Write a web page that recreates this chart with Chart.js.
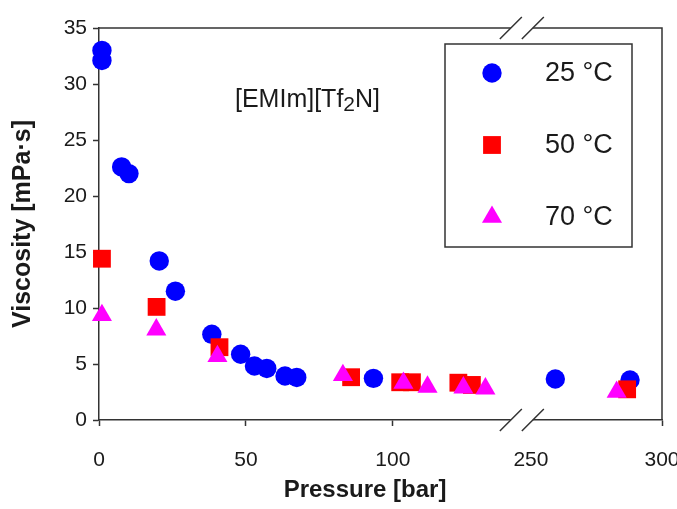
<!DOCTYPE html>
<html>
<head>
<meta charset="utf-8">
<script src="https://cdn.jsdelivr.net/npm/chart.js@4.4.1/dist/chart.umd.min.js"></script>
<style>
  html, body { margin: 0; padding: 0; background: #fff; }
  #wrap { width: 677px; height: 509px; }
</style>
</head>
<body>
<div id="wrap"><canvas id="viscChart"></canvas></div>
<script>
// pressure [bar] / viscosity [mPa·s]
var pressure25 = [1, 1, 7.7, 10.2, 20.5, 26.0, 38.4, 48.2, 52.9, 57.1, 63.3, 67.3, 93.4, 259.3, 287.8];
var viscosity25 = [33.0, 32.1, 22.6, 22.0, 14.2, 11.5, 7.65, 5.87, 4.82, 4.6, 3.93, 3.8, 3.72, 3.66, 3.57];
var pressure50 = [1, 19.6, 41.0, 85.8, 102.5, 106.5, 122.3, 126.9, 286.7];
var viscosity50 = [14.4, 10.1, 6.5, 3.82, 3.37, 3.37, 3.33, 3.13, 2.74];
var pressure70 = [1, 19.5, 40.3, 83.0, 103.6, 111.8, 124.0, 131.5, 282.7];
var viscosity70 = [9.35, 8.07, 5.69, 3.99, 3.3, 2.95, 2.89, 2.8, 2.5];

var seriesLabels = ['25 °C', '50 °C', '70 °C'];
var xTickValues = [0, 50, 100, 250, 300];
var yTickValues = [0, 5, 10, 15, 20, 25, 30, 35];

var axisColor = '#333';
var textColor = '#1a1a1a';
var fontFamily = '"Liberation Sans", Arial, sans-serif';

// broken x axis: 0..~145 bar as is, 250..300 bar squeezed in after the break
var breakAt = 143.9;
var rightFrom = 147;
var rightTo = 191.6;
function toAxis(p) {
   if (p < 200) return p;
   return rightFrom + (p - 250) * (rightTo - rightFrom) / 50;
}
function points(px, vy) {
   return px.map(function(p, i) { return { x: toAxis(p), y: vy[i] }; });
}

var frameAndBreak = {
   id: 'frameAndBreak',
   afterDraw: function(chart) {
      var ctx = chart.ctx;
      var a = chart.chartArea;
      var bx = chart.scales.x.getPixelForValue(breakAt);
      ctx.save();
      ctx.strokeStyle = axisColor;
      ctx.lineWidth = 1.5;
      ctx.beginPath();
      ctx.moveTo(a.left, a.top);
      ctx.lineTo(a.right, a.top);
      ctx.lineTo(a.right, a.bottom);
      ctx.stroke();
      [a.top, a.bottom].forEach(function(y) {
         ctx.fillStyle = '#fff';
         ctx.fillRect(bx - 11, y - 2, 22, 4);
         ctx.beginPath();
         ctx.moveTo(bx - 22, y + 11);
         ctx.lineTo(bx, y - 11);
         ctx.moveTo(bx, y + 11);
         ctx.lineTo(bx + 22, y - 11);
         ctx.stroke();
      });
      // x title sits a bit left of the plot centre in the original
      ctx.fillStyle = textColor;
      ctx.font = 'bold 24px ' + fontFamily;
      ctx.textAlign = 'center';
      ctx.textBaseline = 'middle';
      ctx.fillText('Pressure [bar]', 365, 490);
      ctx.restore();
   }
};

var boxLegend = {
   id: 'boxLegend',
   afterDraw: function(chart) {
      var ctx = chart.ctx;
      ctx.save();
      ctx.strokeStyle = axisColor;
      ctx.lineWidth = 1.5;
      ctx.strokeRect(445, 44, 187, 203);
      ctx.font = '27px ' + fontFamily;
      ctx.textBaseline = 'middle';
      chart.data.datasets.forEach(function(ds, i) {
         var y = 73 + i * 72;
         ctx.fillStyle = ds.backgroundColor;
         Chart.helpers.drawPoint(ctx, {
            pointStyle: ds.pointStyle, radius: ds.pointRadius, rotation: 0, borderWidth: 0
         }, 492, y);
         ctx.fillStyle = textColor;
         ctx.fillText(ds.label, 545, y + 1);
      });
      ctx.restore();
   }
};

var compoundLabel = {
   id: 'compoundLabel',
   afterDraw: function(chart) {
      var ctx = chart.ctx;
      var x = 235, y = 107;
      ctx.save();
      ctx.fillStyle = textColor;
      ctx.textBaseline = 'alphabetic';
      ctx.font = '25px ' + fontFamily;
      ctx.fillText('[EMIm][Tf', x, y);
      x += ctx.measureText('[EMIm][Tf').width;
      ctx.font = '21px ' + fontFamily;
      ctx.fillText('2', x, y + 4);
      x += ctx.measureText('2').width;
      ctx.font = '25px ' + fontFamily;
      ctx.fillText('N]', x, y);
      ctx.restore();
   }
};

var ctx = document.getElementById('viscChart');
new Chart(ctx, {
   type: 'scatter',
   data: {
      datasets: [{
         label: seriesLabels[0],
         data: points(pressure25, viscosity25),
         pointStyle: 'circle',
         pointRadius: 9.7,
         backgroundColor: '#0000ff',
         borderColor: '#0000ff',
         pointBorderWidth: 0,
         clip: false,
         order: 3
      }, {
         label: seriesLabels[1],
         data: points(pressure50, viscosity50),
         pointStyle: 'rect',
         pointRadius: 12.6,
         backgroundColor: '#ff0000',
         borderColor: '#ff0000',
         pointBorderWidth: 0,
         clip: false,
         order: 2
      }, {
         label: seriesLabels[2],
         data: points(pressure70, viscosity70),
         pointStyle: 'triangle',
         pointRadius: 11.6,
         backgroundColor: '#ff00ff',
         borderColor: '#ff00ff',
         pointBorderWidth: 0,
         clip: false,
         order: 1
      }]
   },
   plugins: [frameAndBreak, boxLegend, compoundLabel],
   options: {
      responsive: true,
      maintainAspectRatio: false,
      animation: false,
      events: [],
      layout: {
         padding: { top: 28, right: 15, bottom: 0, left: 0 }
      },
      plugins: {
         legend: { display: false },
         tooltip: { enabled: false }
      },
      scales: {
         x: {
            type: 'linear',
            min: 0,
            max: rightTo,
            afterBuildTicks: function(s) {
               s.ticks = xTickValues.map(function(v) { return { value: toAxis(v) }; });
            },
            afterFit: function(s) {
               s.height = 89;
               s.paddingLeft = 0;
               s.paddingRight = 0;
            },
            ticks: {
               callback: function(v, i) { return String(xTickValues[i]); },
               autoSkip: false,
               maxRotation: 0,
               padding: 22,
               color: textColor,
               font: { family: fontFamily, size: 21 }
            },
            grid: {
               drawOnChartArea: false,
               tickLength: 6,
               tickWidth: 1.5,
               tickColor: function(c) {
                  return xTickValues[c.index] === 250 ? 'rgba(0,0,0,0)' : axisColor;
               }
            },
            border: { color: axisColor, width: 1.5 },
            title: { display: false }
         },
         y: {
            min: 0,
            max: 35,
            afterBuildTicks: function(s) {
               s.ticks = yTickValues.map(function(v) { return { value: v }; });
            },
            afterFit: function(s) {
               s.width = 99;
               s.paddingTop = 0;
               s.paddingBottom = 0;
            },
            ticks: {
               padding: 6,
               color: textColor,
               font: { family: fontFamily, size: 21 }
            },
            grid: {
               drawOnChartArea: false,
               tickLength: 6,
               tickWidth: 1.5,
               tickColor: axisColor
            },
            border: { color: axisColor, width: 1.5 },
            title: {
               display: true,
               text: 'Viscosity [mPa·s]',
               color: textColor,
               font: { family: fontFamily, size: 25, weight: 'bold' },
               padding: { top: 8, bottom: 0 }
            }
         }
      }
   }
});
</script>
</body>
</html>
